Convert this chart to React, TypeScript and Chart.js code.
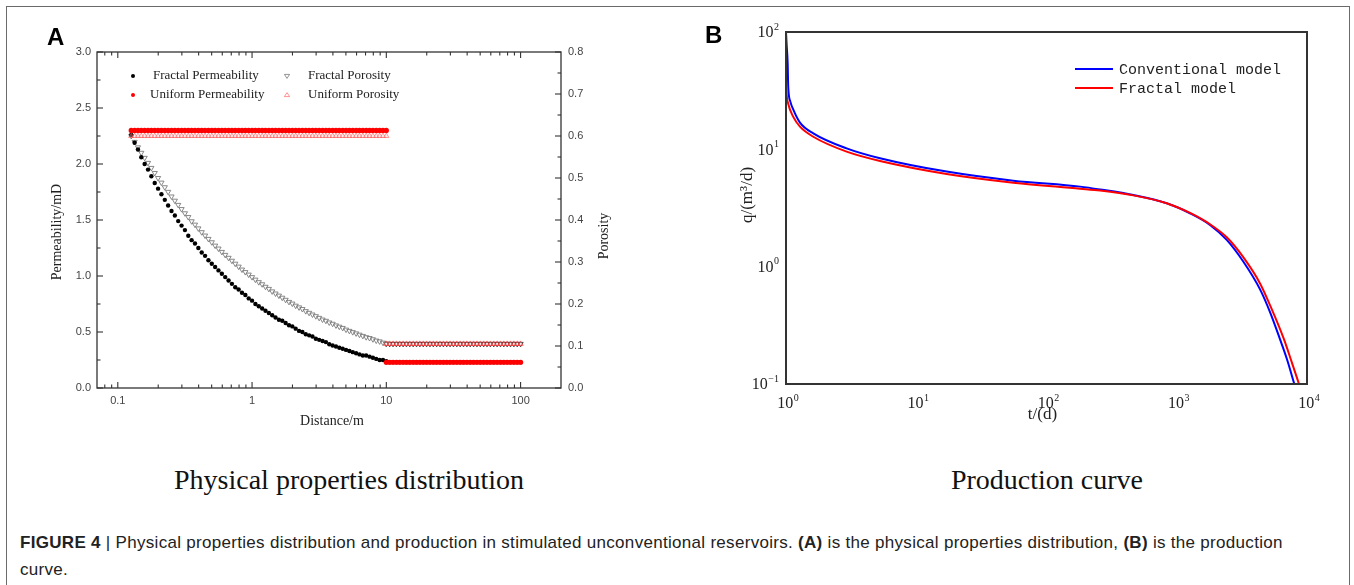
import React, { useEffect, useRef } from "react";
import { Chart, registerables } from "chart.js";

Chart.register(...registerables);

// ---------------- Panel A data ----------------
const DIST_INNER = [
  0.1259, 0.1334, 0.1413, 0.1496, 0.1585, 0.1679, 0.1778, 0.1884, 0.1995, 0.2113,
  0.2239, 0.2371, 0.2512, 0.2661, 0.2818, 0.2985, 0.3162, 0.335, 0.3548, 0.3758,
  0.3981, 0.4217, 0.4467, 0.4732, 0.5012, 0.5309, 0.5623, 0.5957, 0.631, 0.6683,
  0.7079, 0.7499, 0.7943, 0.8414, 0.8913, 0.9441, 1.0, 1.059, 1.122, 1.189,
  1.259, 1.334, 1.413, 1.496, 1.585, 1.679, 1.778, 1.884, 1.995, 2.113,
  2.239, 2.371, 2.512, 2.661, 2.818, 2.985, 3.162, 3.35, 3.548, 3.758,
  3.981, 4.217, 4.467, 4.732, 5.012, 5.309, 5.623, 5.957, 6.31, 6.683,
  7.079, 7.499, 7.943, 8.414, 8.913, 9.441, 10.0,
];
const FRACTAL_PERM = [
  2.26, 2.19, 2.13, 2.06, 2.0, 1.95, 1.89, 1.83, 1.78, 1.73,
  1.68, 1.63, 1.58, 1.54, 1.49, 1.45, 1.41, 1.36, 1.32, 1.29,
  1.25, 1.21, 1.18, 1.14, 1.11, 1.08, 1.05, 1.02, 0.99, 0.96,
  0.93, 0.9, 0.88, 0.85, 0.83, 0.8, 0.78, 0.75, 0.73, 0.71,
  0.69, 0.67, 0.65, 0.63, 0.61, 0.6, 0.58, 0.56, 0.55, 0.53,
  0.51, 0.5, 0.48, 0.47, 0.46, 0.44, 0.43, 0.42, 0.41, 0.39,
  0.38, 0.37, 0.36, 0.35, 0.34, 0.33, 0.32, 0.31, 0.3, 0.29,
  0.29, 0.28, 0.27, 0.26, 0.25, 0.25, 0.24,
];
const FRACTAL_POR = [
  0.6, 0.586, 0.573, 0.56, 0.548, 0.536, 0.524, 0.512, 0.5, 0.489,
  0.478, 0.467, 0.456, 0.446, 0.436, 0.426, 0.416, 0.407, 0.397, 0.389,
  0.38, 0.371, 0.363, 0.355, 0.347, 0.339, 0.332, 0.324, 0.317, 0.31,
  0.303, 0.296, 0.289, 0.282, 0.276, 0.27, 0.264, 0.258, 0.252, 0.247,
  0.241, 0.236, 0.23, 0.225, 0.22, 0.215, 0.21, 0.205, 0.201, 0.196,
  0.192, 0.188, 0.183, 0.179, 0.175, 0.171, 0.167, 0.163, 0.16, 0.156,
  0.153, 0.149, 0.146, 0.143, 0.139, 0.136, 0.133, 0.13, 0.127, 0.124,
  0.121, 0.119, 0.116, 0.113, 0.111, 0.108, 0.106,
];
const DIST_OUTER = [
  10, 10.59, 11.22, 11.89, 12.59, 13.34, 14.13, 14.96, 15.85, 16.79,
  17.78, 18.84, 19.95, 21.13, 22.39, 23.71, 25.12, 26.61, 28.18, 29.85,
  31.62, 33.5, 35.48, 37.58, 39.81, 42.17, 44.67, 47.32, 50.12, 53.09,
  56.23, 59.57, 63.1, 66.83, 70.79, 74.99, 79.43, 84.14, 89.13, 94.41, 100,
];
const UNIFORM_PERM_INNER = 2.3;
const UNIFORM_PERM_OUTER = 0.23;
const UNIFORM_POR_INNER = 0.6;
const UNIFORM_POR_OUTER = 0.105;
const FRACTAL_PERM_OUTER = 0.23;
const FRACTAL_POR_OUTER = 0.105;

const A_X_TICKS = [0.1, 1, 10, 100];
const A_X_LABELS = ["0.1", "1", "10", "100"];
const A_X_MINOR = [0.08, 0.09, 0.2, 0.3, 0.4, 0.5, 0.6, 0.7, 0.8, 0.9, 2, 3, 4, 5, 6, 7, 8, 9, 20, 30, 40, 50, 60, 70, 80, 90, 200];
const A_PERM_TICKS = [0, 0.5, 1, 1.5, 2, 2.5, 3];
const A_PERM_LABELS = ["0.0", "0.5", "1.0", "1.5", "2.0", "2.5", "3.0"];
const A_PERM_MINOR = [0.25, 0.75, 1.25, 1.75, 2.25, 2.75];
const A_POR_TICKS = [0, 0.1, 0.2, 0.3, 0.4, 0.5, 0.6, 0.7, 0.8];
const A_POR_LABELS = ["0.0", "0.1", "0.2", "0.3", "0.4", "0.5", "0.6", "0.7", "0.8"];
const A_POR_MINOR = [0.05, 0.15, 0.25, 0.35, 0.45, 0.55, 0.65, 0.75];

// ---------------- Panel B data ----------------
const T_CONV = [1, 1.01, 1.03, 1.04, 1.08, 1.14, 1.28, 1.62, 2.92, 5.27, 17.1, 55.6, 181, 258, 464, 837, 1264, 1800, 2420, 3250, 4360, 5200, 6210, 7000, 7990];
const Q_CONV = [100, 80, 54, 34.3, 25.5, 21.7, 16.9, 13.7, 10.2, 8.4, 6.46, 5.41, 4.81, 4.55, 4.08, 3.47, 2.85, 2.27, 1.69, 1.1, 0.64, 0.41, 0.24, 0.164, 0.1];
const T_FRAC = [1, 1.01, 1.04, 1.14, 1.28, 1.62, 2.92, 5.27, 17.1, 55.6, 181, 258, 464, 837, 1264, 1800, 2420, 3250, 4360, 5200, 6660, 7600, 8680];
const Q_FRAC = [40, 30, 24.5, 18.8, 15.6, 12.8, 9.56, 7.96, 6.17, 5.2, 4.62, 4.45, 4.05, 3.47, 2.87, 2.3, 1.78, 1.2, 0.72, 0.47, 0.24, 0.156, 0.1];
const B_T_TICKS = [1, 10, 100, 1000, 10000];
const B_T_EXP = ["0", "1", "2", "3", "4"];
const B_Q_TICKS = [0.1, 1, 10, 100];
const B_Q_EXP = ["\u22121", "0", "1", "2"];
const B_SERIES_NAMES = ["Conventional model", "Fractal model"];

const SERIF = "'Liberation Serif', 'Times New Roman', serif";
const SANS = "'Liberation Sans', Arial, sans-serif";

const pts = (xs: number[], ys: number[]) => xs.map((x, i) => ({ x, y: ys[i] }));
const flat = (xs: number[], v: number) => xs.map((x) => ({ x, y: v }));

const panelAPlugin = {
  id: "panelADecor",
  afterDraw(chart: any) {
    const { ctx, chartArea: ca, scales } = chart;
    const xs = scales.x, ys = scales.y, y2 = scales.y2;
    ctx.save();
    const line = (a: number, b: number, c: number, d: number) => {
      ctx.beginPath(); ctx.moveTo(a, b); ctx.lineTo(c, d); ctx.stroke();
    };
    ctx.strokeStyle = "#333";
    ctx.lineWidth = 1.3;
    ctx.strokeRect(ca.left, ca.top, ca.right - ca.left, ca.bottom - ca.top);
    ctx.lineWidth = 1.1;
    A_PERM_TICKS.forEach((v) => { const p = ys.getPixelForValue(v); line(ca.left, p, ca.left + 6, p); });
    A_PERM_MINOR.forEach((v) => { const p = ys.getPixelForValue(v); line(ca.left, p, ca.left + 3.5, p); });
    A_POR_TICKS.forEach((v) => { const p = y2.getPixelForValue(v); line(ca.right, p, ca.right - 6, p); });
    A_POR_MINOR.forEach((v) => { const p = y2.getPixelForValue(v); line(ca.right, p, ca.right - 3.5, p); });
    A_X_TICKS.forEach((v) => {
      const p = xs.getPixelForValue(v);
      line(p, ca.bottom, p, ca.bottom - 6); line(p, ca.top, p, ca.top + 6);
    });
    A_X_MINOR.forEach((v) => {
      const p = xs.getPixelForValue(v);
      if (p <= ca.left + 1 || p >= ca.right - 1) return;
      line(p, ca.bottom, p, ca.bottom - 3.5); line(p, ca.top, p, ca.top + 3.5);
    });
    // tick labels
    ctx.fillStyle = "#444";
    ctx.font = `11px ${SANS}`;
    ctx.textBaseline = "middle";
    ctx.textAlign = "right";
    A_PERM_TICKS.forEach((v, i) => ctx.fillText(A_PERM_LABELS[i], ca.left - 6, ys.getPixelForValue(v)));
    ctx.textAlign = "left";
    A_POR_TICKS.forEach((v, i) => ctx.fillText(A_POR_LABELS[i], ca.right + 7, y2.getPixelForValue(v)));
    ctx.textAlign = "center";
    A_X_TICKS.forEach((v, i) => ctx.fillText(A_X_LABELS[i], xs.getPixelForValue(v), ca.bottom + 13));
    // axis titles
    ctx.fillStyle = "#222";
    ctx.font = `14px ${SERIF}`;
    ctx.fillText("Distance/m", (ca.left + ca.right) / 2 + 3, ca.bottom + 33);
    ctx.save();
    ctx.translate(ca.left - 40, (ca.top + ca.bottom) / 2 + 12);
    ctx.rotate(-Math.PI / 2);
    ctx.fillText("Permeability/mD", 0, 0);
    ctx.restore();
    ctx.save();
    ctx.translate(ca.right + 43, (ca.top + ca.bottom) / 2 + 16);
    ctx.rotate(-Math.PI / 2);
    ctx.fillText("Porosity", 0, 0);
    ctx.restore();
    // legend
    const r1 = ca.top + 24, r2 = ca.top + 43;
    const c1 = ca.left + 36, c2 = ca.left + 190;
    ctx.fillStyle = "#000";
    ctx.beginPath(); ctx.arc(c1, r1, 2, 0, Math.PI * 2); ctx.fill();
    ctx.fillStyle = "#ff0000";
    ctx.beginPath(); ctx.arc(c1, r2, 2, 0, Math.PI * 2); ctx.fill();
    ctx.lineWidth = 0.8;
    ctx.strokeStyle = "#777";
    ctx.beginPath(); ctx.moveTo(c2 - 2.6, r1 - 1.6); ctx.lineTo(c2 + 2.6, r1 - 1.6); ctx.lineTo(c2, r1 + 2.4); ctx.closePath(); ctx.stroke();
    ctx.strokeStyle = "rgba(255,60,60,0.7)";
    ctx.beginPath(); ctx.moveTo(c2 - 2.6, r2 + 1.6); ctx.lineTo(c2 + 2.6, r2 + 1.6); ctx.lineTo(c2, r2 - 2.4); ctx.closePath(); ctx.stroke();
    ctx.fillStyle = "#222";
    ctx.font = `13px ${SERIF}`;
    ctx.textAlign = "left";
    ctx.fillText("Fractal Permeability", c1 + 20, r1);
    ctx.fillText("Uniform Permeability", c1 + 17, r2);
    ctx.fillText("Fractal Porosity", c2 + 21, r1);
    ctx.fillText("Uniform Porosity", c2 + 21, r2);
    ctx.restore();
  },
};

const panelBPlugin = {
  id: "panelBDecor",
  afterDraw(chart: any) {
    const { ctx, chartArea: ca, scales } = chart;
    const xs = scales.x, ys = scales.y;
    ctx.save();
    ctx.strokeStyle = "#333";
    ctx.lineWidth = 2;
    ctx.strokeRect(ca.left, ca.top, ca.right - ca.left, ca.bottom - ca.top);
    const mainFont = `16px ${SERIF}`;
    const supFont = `10px ${SERIF}`;
    const drawPow = (exp: string, x: number, y: number, align: "right" | "center") => {
      ctx.font = mainFont;
      const w1 = ctx.measureText("10").width;
      ctx.font = supFont;
      const w2 = ctx.measureText(exp).width;
      const total = w1 + w2 + 0.5;
      const start = align === "right" ? x - total : x - total / 2;
      ctx.textAlign = "left";
      ctx.textBaseline = "middle";
      ctx.font = mainFont;
      ctx.fillText("10", start, y);
      ctx.font = supFont;
      ctx.fillText(exp, start + w1 + 0.5, y - 6);
    };
    ctx.fillStyle = "#222";
    B_Q_TICKS.forEach((v, i) => drawPow(B_Q_EXP[i], ca.left - 7, ys.getPixelForValue(v) + 1, "right"));
    B_T_TICKS.forEach((v, i) => drawPow(B_T_EXP[i], xs.getPixelForValue(v) + 2, ca.bottom + 20, "center"));
    // axis titles
    ctx.font = `17px ${SERIF}`;
    ctx.textAlign = "center";
    ctx.textBaseline = "middle";
    ctx.fillText("t/(d)", (ca.left + ca.right) / 2 - 4, ca.bottom + 31);
    ctx.save();
    ctx.translate(ca.left - 38, ca.top + 163);
    ctx.rotate(-Math.PI / 2);
    ctx.fillText("q/(m\u00B3/d)", 0, 0);
    ctx.restore();
    // legend
    const colors = ["#0000ff", "#ff0000"];
    const lx = ca.left + 289;
    const rows = [ca.top + 37, ca.top + 56];
    ctx.font = `15px 'Liberation Mono', 'DejaVu Sans Mono', monospace`;
    ctx.textAlign = "left";
    B_SERIES_NAMES.forEach((name, i) => {
      ctx.strokeStyle = colors[i];
      ctx.lineWidth = 2;
      ctx.beginPath(); ctx.moveTo(lx, rows[i]); ctx.lineTo(lx + 38, rows[i]); ctx.stroke();
      ctx.fillStyle = "#222";
      ctx.fillText(name, lx + 44, rows[i] + 1);
    });
    ctx.restore();
  },
};

function PanelA() {
  const ref = useRef<HTMLCanvasElement>(null);
  useEffect(() => {
    const tri = (color: string, rot: number, fill: string) => ({
      pointStyle: "triangle" as const,
      rotation: rot,
      pointRadius: 3,
      pointBorderWidth: 0.9,
      pointBorderColor: color,
      pointBackgroundColor: fill,
      borderColor: color,
      backgroundColor: fill,
    });
    const dot = (color: string, r: number) => ({
      pointStyle: "circle" as const,
      pointRadius: r,
      pointBorderWidth: 0,
      pointBackgroundColor: color,
      backgroundColor: color,
      borderColor: color,
    });
    const chart = new Chart(ref.current!, {
      type: "scatter",
      data: {
        datasets: [
          { label: "Uniform Permeability", data: flat(DIST_INNER, UNIFORM_PERM_INNER), yAxisID: "y", ...dot("#ff0000", 2.6) },
          { label: "Uniform Permeability (outer)", data: flat(DIST_OUTER, UNIFORM_PERM_OUTER), yAxisID: "y", ...dot("#ff0000", 2.6) },
          { label: "Uniform Porosity", data: flat(DIST_INNER, UNIFORM_POR_INNER), yAxisID: "y2", ...tri("rgba(255,60,60,0.55)", 0, "rgba(255,200,200,0.35)") },
          { label: "Uniform Porosity (outer)", data: flat(DIST_OUTER, UNIFORM_POR_OUTER), yAxisID: "y2", ...tri("rgba(255,40,40,0.7)", 0, "rgba(255,200,200,0.3)") },
          { label: "Fractal Permeability", data: pts(DIST_INNER, FRACTAL_PERM), yAxisID: "y", ...dot("#000000", 2.2) },
          { label: "Fractal Porosity", data: pts(DIST_INNER, FRACTAL_POR), yAxisID: "y2", ...tri("#7a7a7a", 180, "rgba(0,0,0,0)") },
          { label: "Fractal Porosity (outer)", data: flat(DIST_OUTER, FRACTAL_POR_OUTER), yAxisID: "y2", ...tri("#333333", 180, "rgba(0,0,0,0)") },
          { label: "Fractal Permeability (outer)", data: flat(DIST_OUTER, FRACTAL_PERM_OUTER), yAxisID: "y", ...dot("#000000", 2.2) },
        ],
      },
      options: {
        responsive: false,
        animation: false,
        devicePixelRatio: 1,
        events: [],
        layout: { padding: { left: 97, top: 52, right: 119, bottom: 52 } },
        plugins: { legend: { display: false }, tooltip: { enabled: false } },
        scales: {
          x: { type: "logarithmic", min: 0.07, max: 200, display: false },
          y: { type: "linear", position: "left", min: 0, max: 3, display: false },
          y2: { type: "linear", position: "right", min: 0, max: 0.8, display: false },
        },
      },
      plugins: [panelAPlugin],
    } as any);
    return () => chart.destroy();
  }, []);
  return (
    <canvas
      ref={ref}
      width={680}
      height={440}
      style={{ position: "absolute", left: 0, top: 0, width: 680, height: 440 }}
    />
  );
}

function PanelB() {
  const ref = useRef<HTMLCanvasElement>(null);
  useEffect(() => {
    const chart = new Chart(ref.current!, {
      type: "scatter",
      data: {
        datasets: [
          {
            label: B_SERIES_NAMES[1],
            data: pts(T_FRAC, Q_FRAC),
            showLine: true,
            borderColor: "#ff0000",
            borderWidth: 2,
            pointRadius: 0,
            cubicInterpolationMode: "monotone",
          },
          {
            label: B_SERIES_NAMES[0],
            data: pts(T_CONV, Q_CONV),
            showLine: true,
            borderColor: "#0000ff",
            borderWidth: 2,
            pointRadius: 0,
            cubicInterpolationMode: "monotone",
          },
        ],
      },
      options: {
        responsive: false,
        animation: false,
        devicePixelRatio: 1,
        events: [],
        layout: { padding: { left: 106, top: 32, right: 47, bottom: 56 } },
        plugins: { legend: { display: false }, tooltip: { enabled: false } },
        scales: {
          x: { type: "logarithmic", min: 1, max: 10000, display: false },
          y: { type: "logarithmic", min: 0.1, max: 100, display: false },
        },
      },
      plugins: [panelBPlugin],
    } as any);
    return () => chart.destroy();
  }, []);
  return (
    <canvas
      ref={ref}
      width={674}
      height={440}
      style={{ position: "absolute", left: 680, top: 0, width: 674, height: 440 }}
    />
  );
}

export default function App() {
  return (
    <div
      style={{
        position: "fixed",
        left: 0,
        top: 0,
        width: 1354,
        height: 585,
        overflow: "hidden",
        background: "#fff",
      }}
    >
      <div
        style={{
          position: "absolute",
          left: 6,
          top: 6,
          width: 1344,
          height: 640,
          boxSizing: "border-box",
          border: "1px solid #6a6a6a",
        }}
      />
      <PanelA />
      <PanelB />
      <div style={{ position: "absolute", left: 47, top: 22, font: `bold 24px ${SANS}`, lineHeight: "30px", color: "#000" }}>A</div>
      <div style={{ position: "absolute", left: 705, top: 20, font: `bold 24px ${SANS}`, lineHeight: "30px", color: "#000" }}>B</div>
      <div
        style={{
          position: "absolute",
          left: 0,
          width: 698,
          top: 462,
          textAlign: "center",
          font: `28px ${SERIF}`,
          lineHeight: "36px",
          color: "#111",
        }}
      >
        Physical properties distribution
      </div>
      <div
        style={{
          position: "absolute",
          left: 847,
          width: 400,
          top: 462,
          textAlign: "center",
          font: `28px ${SERIF}`,
          lineHeight: "36px",
          color: "#111",
        }}
      >
        Production curve
      </div>
      <div
        style={{
          position: "absolute",
          left: 20,
          top: 529,
          width: 1320,
          font: `17px ${SANS}`,
          letterSpacing: "0.3px",
          lineHeight: "27px",
          color: "#222",
          whiteSpace: "nowrap",
        }}
      >
        <b>FIGURE 4</b> | Physical properties distribution and production in stimulated unconventional reservoirs.{" "}
        <b>(A)</b> is the physical properties distribution, <b>(B)</b> is the production
        <br />
        curve.
      </div>
    </div>
  );
}
